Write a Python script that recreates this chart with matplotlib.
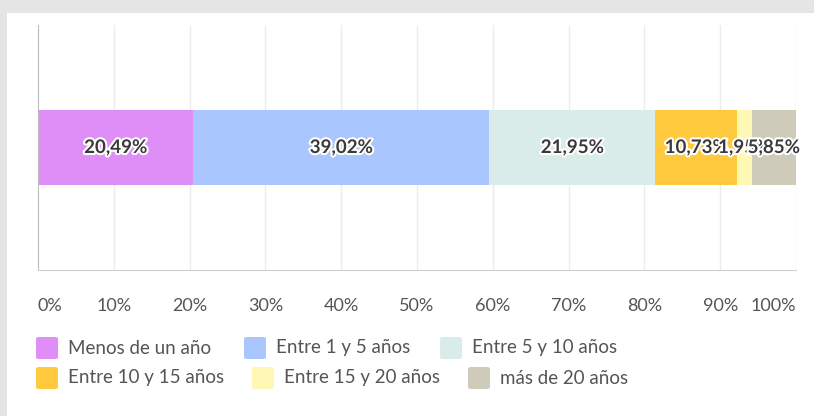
import matplotlib.pyplot as plt
import matplotlib.patheffects as pe
from matplotlib.patches import Rectangle, FancyBboxPatch

plt.rcParams['font.family'] = ['Lato', 'DejaVu Sans']

# Datos
categorias = ['Menos de un año', 'Entre 1 y 5 años', 'Entre 5 y 10 años',
              'Entre 10 y 15 años', 'Entre 15 y 20 años', 'más de 20 años']
valores = [20.49, 39.02, 21.95, 10.73, 1.95, 5.85]
colores = ['#e08ef7', '#a9c6ff', '#d9ecea', '#ffc93e', '#fff8b5', '#cfcbbb']
ticks = [0, 10, 20, 30, 40, 50, 60, 70, 80, 90, 100]

W, H = 814, 416
fig = plt.figure(figsize=(W / 100, H / 100), dpi=100)
fig.patch.set_facecolor('#e5e5e5')
fig.patches.append(Rectangle((7 / W, 0), 1, 1 - 13 / H, transform=fig.transFigure,
                             facecolor='white', edgecolor='none', zorder=-10))

ax = fig.add_axes([38 / W, 1 - 270 / H, 758 / W, 245 / H])
ax.set_facecolor('none')
ax.set_xlim(0, 100)
ax.set_ylim(0, 1)

for t in ticks[1:]:
    ax.axvline(t, color='#ececec', lw=1, zorder=0)

izq = 0
for v, c in zip(valores, colores):
    ax.barh(0.5, v, left=izq, height=0.31, color=c, zorder=2)
    ax.text(izq + v / 2, 0.5, f'{v:.2f}%'.replace('.', ','), ha='center', va='center',
            fontsize=13.5, fontweight='bold', color='#3a3a3a', zorder=3,
            path_effects=[pe.withStroke(linewidth=3, foreground='white')])
    izq += v

for s in ['top', 'right']:
    ax.spines[s].set_visible(False)
ax.spines['left'].set_color('#bdbdbd')
ax.spines['bottom'].set_color('#d0d0d0')
ax.set_yticks([])
ax.set_xticks(ticks)
ax.set_xticklabels([f'{t}%' for t in ticks], fontsize=13, color='#555555')
ax.tick_params(axis='x', length=0, pad=20)
labs = ax.get_xticklabels()
labs[0].set_ha('left')
labs[-1].set_ha('right')

# Leyenda en flujo
pos_leyenda = [(36, 348), (244, 348), (440, 348), (36, 378), (252, 378), (468, 378)]
for (x, y), cat, c in zip(pos_leyenda, categorias, colores):
    fig.patches.append(FancyBboxPatch((x / W, 1 - (y + 11) / H), 22 / W, 22 / H,
                                      boxstyle='round,pad=0,rounding_size=0.004',
                                      transform=fig.transFigure, facecolor=c,
                                      edgecolor='none'))
    fig.text((x + 32) / W, 1 - y / H, cat, ha='left', va='center',
             fontsize=13.5, color='#555555')

fig.savefig('out.png', dpi=100)
